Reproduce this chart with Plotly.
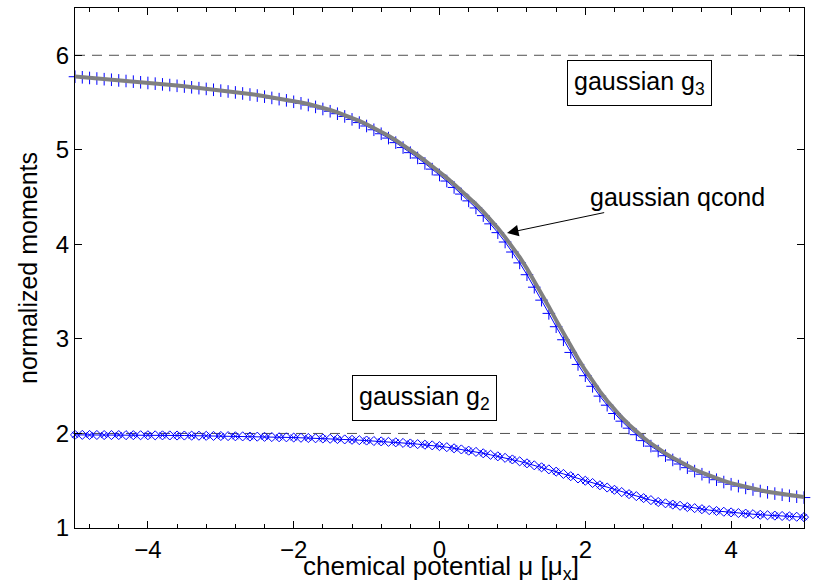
import plotly.graph_objects as go

# ---- data ----
mu = [round(-5 + 0.1 * i, 1) for i in range(101)]

g3_qcond_gray = [
    5.776, 5.770, 5.764, 5.757, 5.751, 5.744, 5.738, 5.731, 5.725, 5.718,
    5.711, 5.704, 5.696, 5.689, 5.681, 5.673, 5.665, 5.657, 5.648, 5.640,
    5.631, 5.622, 5.612, 5.602, 5.591, 5.580, 5.568, 5.556, 5.543, 5.530,
    5.516, 5.501, 5.484, 5.465, 5.444, 5.421, 5.396, 5.368, 5.338, 5.306,
    5.271, 5.233, 5.192, 5.148, 5.101, 5.051, 4.998, 4.943, 4.886, 4.827,
    4.766, 4.703, 4.637, 4.568, 4.497, 4.424, 4.346, 4.262, 4.172, 4.076,
    3.974, 3.864, 3.744, 3.615, 3.480, 3.341, 3.199, 3.060, 2.923, 2.792,
    2.669, 2.553, 2.445, 2.345, 2.253, 2.169, 2.092, 2.020, 1.954, 1.894,
    1.839, 1.789, 1.742, 1.698, 1.657, 1.619, 1.585, 1.553, 1.524, 1.498,
    1.474, 1.453, 1.433, 1.415, 1.399, 1.384, 1.371, 1.358, 1.347, 1.336,
    1.327,
]

g3_blue = [
    5.773, 5.767, 5.760, 5.754, 5.747, 5.741, 5.734, 5.728, 5.721, 5.714,
    5.707, 5.700, 5.692, 5.685, 5.677, 5.669, 5.661, 5.652, 5.644, 5.635,
    5.626, 5.617, 5.607, 5.596, 5.585, 5.574, 5.562, 5.549, 5.536, 5.523,
    5.508, 5.492, 5.474, 5.454, 5.432, 5.408, 5.382, 5.353, 5.322, 5.288,
    5.252, 5.212, 5.170, 5.124, 5.076, 5.024, 4.970, 4.914, 4.856, 4.796,
    4.734, 4.670, 4.602, 4.532, 4.460, 4.385, 4.304, 4.217, 4.124, 4.025,
    3.919, 3.804, 3.679, 3.547, 3.410, 3.270, 3.129, 2.991, 2.857, 2.730,
    2.611, 2.499, 2.395, 2.299, 2.211, 2.130, 2.056, 1.987, 1.924, 1.866,
    1.814, 1.765, 1.720, 1.677, 1.638, 1.602, 1.569, 1.538, 1.511, 1.486,
    1.463, 1.443, 1.424, 1.407, 1.391, 1.377, 1.364, 1.352, 1.341, 1.331,
    1.322,
]

g2_blue = [
    1.985, 1.985, 1.984, 1.984, 1.983, 1.983, 1.983, 1.982, 1.982, 1.981,
    1.981, 1.980, 1.980, 1.979, 1.978, 1.978, 1.977, 1.976, 1.975, 1.974,
    1.973, 1.972, 1.970, 1.969, 1.967, 1.966, 1.964, 1.962, 1.960, 1.959,
    1.957, 1.954, 1.952, 1.949, 1.947, 1.944, 1.941, 1.937, 1.933, 1.929,
    1.925, 1.920, 1.916, 1.911, 1.906, 1.900, 1.894, 1.887, 1.881, 1.874,
    1.866, 1.855, 1.843, 1.831, 1.818, 1.805, 1.790, 1.774, 1.758, 1.742,
    1.725, 1.705, 1.684, 1.663, 1.642, 1.620, 1.596, 1.572, 1.548, 1.524,
    1.500, 1.476, 1.452, 1.428, 1.404, 1.380, 1.358, 1.337, 1.316, 1.295,
    1.275, 1.261, 1.248, 1.235, 1.222, 1.210, 1.199, 1.189, 1.180, 1.172,
    1.165, 1.158, 1.152, 1.146, 1.140, 1.135, 1.131, 1.127, 1.123, 1.119,
    1.115,
]

limit_levels = [6, 2]
x_span = [-5, 5]

FONT = "Liberation Sans, Arial, Helvetica, sans-serif"
BLUE = "#0000ff"

fig = go.Figure()

# dashed gaussian limits
for lv in limit_levels:
    fig.add_trace(go.Scatter(x=x_span, y=[lv, lv], mode="lines",
                             line=dict(color="#505050", width=1, dash="10px,7px"),
                             showlegend=False, hoverinfo="skip"))

# g2: blue line with diamonds and x markers
fig.add_trace(go.Scatter(x=mu, y=g2_blue, mode="lines+markers",
                         line=dict(color=BLUE, width=1),
                         marker=dict(symbol="diamond-open", size=7,
                                     color=BLUE, line=dict(color=BLUE, width=1)),
                         cliponaxis=False, showlegend=False))
fig.add_trace(go.Scatter(x=mu[::2], y=g2_blue[::2], mode="markers",
                         marker=dict(symbol="x-thin-open", size=6,
                                     color=BLUE, line=dict(color=BLUE, width=1)),
                         cliponaxis=False, showlegend=False))

# g3: blue line with + markers
fig.add_trace(go.Scatter(x=mu, y=g3_blue, mode="lines+markers",
                         line=dict(color=BLUE, width=1),
                         marker=dict(symbol="cross-thin-open", size=9,
                                     color=BLUE, line=dict(color=BLUE, width=1)),
                         cliponaxis=False, showlegend=False))

# gaussian qcond gray thick line
fig.add_trace(go.Scatter(x=mu, y=g3_qcond_gray, mode="lines",
                         line=dict(color="#808080", width=4),
                         showlegend=False))

axis_common = dict(showline=True, linecolor="black", linewidth=1,
                   mirror="ticks", ticks="inside", ticklen=7, tickcolor="black",
                   showgrid=False, zeroline=False,
                   tickfont=dict(family=FONT, size=24, color="black"))

fig.update_xaxes(range=[-5, 5], tick0=0, dtick=2,
                 minor=dict(ticks="inside", ticklen=4, dtick=0.4, tick0=0,
                            tickcolor="black", showgrid=False),
                 **axis_common)
fig.update_yaxes(range=[1, 6.5], tick0=0, dtick=1, **axis_common)

annotations = [
    dict(x=(441 - 75) / 729, y=(528 - 567) / 520, xref="paper", yref="paper",
         text="chemical potential μ [μ<sub>x</sub>]", showarrow=False,
         font=dict(family=FONT, size=26, color="black"),
         xanchor="center", yanchor="middle"),
    dict(x=(28 - 75) / 729, y=0.5, xref="paper", yref="paper",
         text="normalized moments", textangle=-90, showarrow=False,
         font=dict(family=FONT, size=25, color="black"),
         xanchor="center", yanchor="middle"),
    dict(x=2.74, y=5.71, xref="x", yref="y", text="gaussian g<sub>3</sub>",
         showarrow=False, bordercolor="black", borderwidth=1, borderpad=6,
         bgcolor="white", font=dict(family=FONT, size=25, color="black")),
    dict(x=-0.21, y=2.376, xref="x", yref="y", text="gaussian g<sub>2</sub>",
         showarrow=False, bordercolor="black", borderwidth=1, borderpad=6,
         bgcolor="white", font=dict(family=FONT, size=25, color="black")),
    dict(x=0.926, y=4.12, xref="x", yref="y", ax=3.27, ay=4.50,
         axref="x", ayref="y", text="gaussian qcond", showarrow=True,
         arrowhead=2, arrowsize=2.3, arrowwidth=1, arrowcolor="black",
         font=dict(family=FONT, size=25, color="black")),
]

fig.update_layout(width=814, height=587,
                  margin=dict(l=75, r=10, t=8, b=59),
                  paper_bgcolor="white", plot_bgcolor="white",
                  annotations=annotations,
                  font=dict(family=FONT, size=24, color="black"))

fig.write_html("out.html")
